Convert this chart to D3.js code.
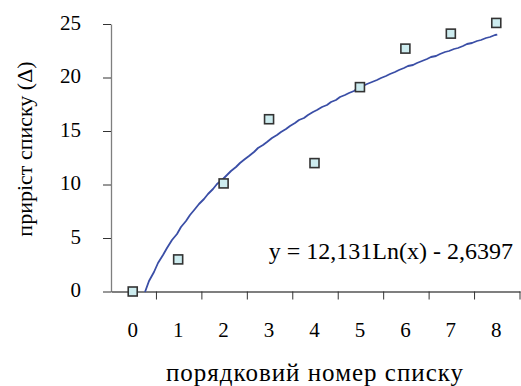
<!DOCTYPE html>
<html>
<head>
<meta charset="utf-8">
<script src="https://cdn.jsdelivr.net/npm/d3@7"></script>
<style>
  html, body { margin: 0; padding: 0; background: #fff; }
  svg { display: block; }
  svg text { font-family: "Liberation Serif", "Times New Roman", serif; fill: #000; }
</style>
</head>
<body>
<svg id="chart" width="521" height="386"></svg>
<script>
// List numbers and their increment values
const categories = ["0", "1", "2", "3", "4", "5", "6", "7", "8"];
const values = [0, 3, 10.1, 16.1, 12, 19.1, 22.7, 24.1, 25.1];
const yTicks = [0, 5, 10, 15, 20, 25];
// Logarithmic trend: y = a*ln(x) + b, x = 1..n
const trendA = 12.131;
const trendB = -2.6397;
const equationLabel = "y = 12,131Ln(x) - 2,6397";
const xTitle = "порядковий номер списку";
const yTitle = "приріст списку (Δ)";

const svg = d3.select("#chart");
const plot = { left: 111, right: 520, top: 24, bottom: 291.5 };

const x = d3.scaleBand().domain(categories).range([plot.left, plot.right]);
const y = d3.scaleLinear().domain([0, 25]).range([plot.bottom, plot.top]);

// Axes
const yAxis = svg.append("g")
  .attr("transform", `translate(${plot.left},0)`)
  .call(d3.axisLeft(y).tickValues(yTicks).tickSize(8).tickSizeOuter(0).tickPadding(22));
const xAxis = svg.append("g")
  .attr("transform", `translate(0,${plot.bottom})`)
  .call(d3.axisBottom(x).tickSize(0));

[yAxis, xAxis].forEach(g => {
  g.attr("font-family", null).attr("font-size", null);
  g.select(".domain").attr("stroke", "#7f7f7f").attr("stroke-width", 1.3);
  g.selectAll(".tick line").attr("stroke", "#333").attr("stroke-width", 1);
  g.selectAll("text").attr("fill", "#000").style("font-size", "21px");
});
xAxis.select(".domain").attr("stroke", "#555");
yAxis.selectAll("text").attr("dy", "0.24em");
xAxis.selectAll(".tick text").attr("y", 45).attr("dy", null).attr("x", -1);

// Category boundary ticks on the x axis
const bounds = categories.map(c => x(c)).concat([x(categories[categories.length - 1]) + x.bandwidth()]);
xAxis.selectAll(".bound").data(bounds.slice(1)).enter().append("line")
  .attr("class", "bound")
  .attr("x1", d => d).attr("x2", d => d)
  .attr("y1", 0).attr("y2", 8)
  .attr("stroke", "#333").attr("stroke-width", 1);

// Trend line
const xi = i => x(categories[0]) + x.bandwidth() / 2 + i * x.step();
const trendPts = [];
const x0 = Math.exp(-trendB / trendA);
for (let t = x0; t <= categories.length + 1e-9; t += 0.1) {
  const v = trendA * Math.log(t) + trendB;
  trendPts.push([Math.round(xi(t - 1)), Math.round(y(Math.max(0, v)))]);
}
const tEnd = categories.length;
trendPts.push([xi(tEnd - 1), y(trendA * Math.log(tEnd) + trendB)]);
svg.append("path")
  .attr("d", d3.line()(trendPts))
  .attr("fill", "none")
  .attr("stroke", "#3a4ea6")
  .attr("stroke-width", 1.8)
  .attr("stroke-linejoin", "round");

// Data markers
const m = 9;
svg.selectAll(".pt").data(values).enter().append("rect")
  .attr("class", "pt")
  .attr("x", (d, i) => x(categories[i]) + x.bandwidth() / 2 - m / 2 - 1)
  .attr("y", d => y(d) - m / 2)
  .attr("width", m).attr("height", m)
  .attr("fill", "#cdecef")
  .attr("stroke", "#333")
  .attr("stroke-width", 1.6);

// Equation label
svg.append("text")
  .attr("x", 513).attr("y", 259)
  .attr("text-anchor", "end")
  .style("font-size", "24px")
  .text(equationLabel);

// Axis titles
svg.append("text")
  .attr("x", 315).attr("y", 381)
  .attr("text-anchor", "middle")
  .style("font-size", "25px")
  .style("letter-spacing", "1px")
  .text(xTitle);
svg.append("text")
  .attr("transform", "translate(32,149) rotate(-90)")
  .attr("text-anchor", "middle")
  .style("font-size", "22px")
  .text(yTitle);
</script>
</body>
</html>
